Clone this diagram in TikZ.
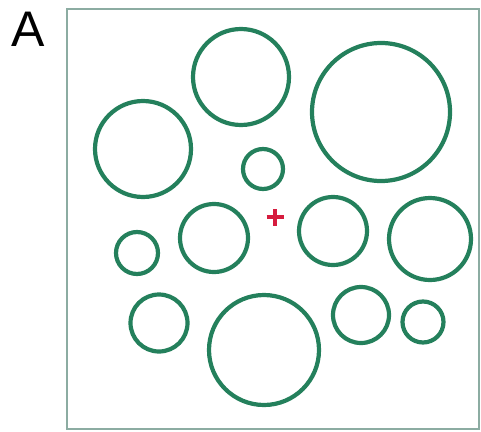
\documentclass[tikz,border=0pt]{standalone}
\usepackage{fontspec}
\setmainfont{Liberation Sans}
\usetikzlibrary{positioning}
\definecolor{ringgreen}{RGB}{36,128,92}
\definecolor{framegray}{RGB}{140,172,162}
\definecolor{markred}{RGB}{214,28,62}
\tikzset{ring/.style={draw=ringgreen,line width=4.2pt,shape=circle,inner sep=0pt}}

\begin{document}
\begin{tikzpicture}[x=1pt,y=-1pt]
\useasboundingbox (0,0) rectangle (481,431);
\path (28,29) node(lab)[font=\fontsize{50}{50}\selectfont] {A};
\draw[framegray,line width=1.4pt] (67,9) rectangle (479,429);
\path (241,77) node(top)[ring,minimum size=96] {};
\path (381,112) node(big)[ring,minimum size=138] {};
\path (143,149) node(left)[ring,minimum size=96] {};
\path (263,169) node(small)[ring,minimum size=40] {};
\path (137,253) node(tiny)[ring,minimum size=42] {};
\path (214,238) node(midl)[ring,minimum size=68] {};
\path (333,231) node(midr)[ring,minimum size=68] {};
\path (430,239) node(right)[ring,minimum size=82] {};
\path (159,323) node(botl)[ring,minimum size=57] {};
\path (264,350) node(bot)[ring,minimum size=110] {};
\path (361,315) node(botr)[ring,minimum size=56] {};
\path (423,322) node(corner)[ring,minimum size=41] {};
\coordinate (plus) at (275,217);
\draw[markred,line width=4.5pt] ([xshift=-8.5]plus) -- ([xshift=8.5]plus);
\draw[markred,line width=4.5pt] ([yshift=-8.5]plus) -- ([yshift=8.5]plus);
\end{tikzpicture}
\end{document}
